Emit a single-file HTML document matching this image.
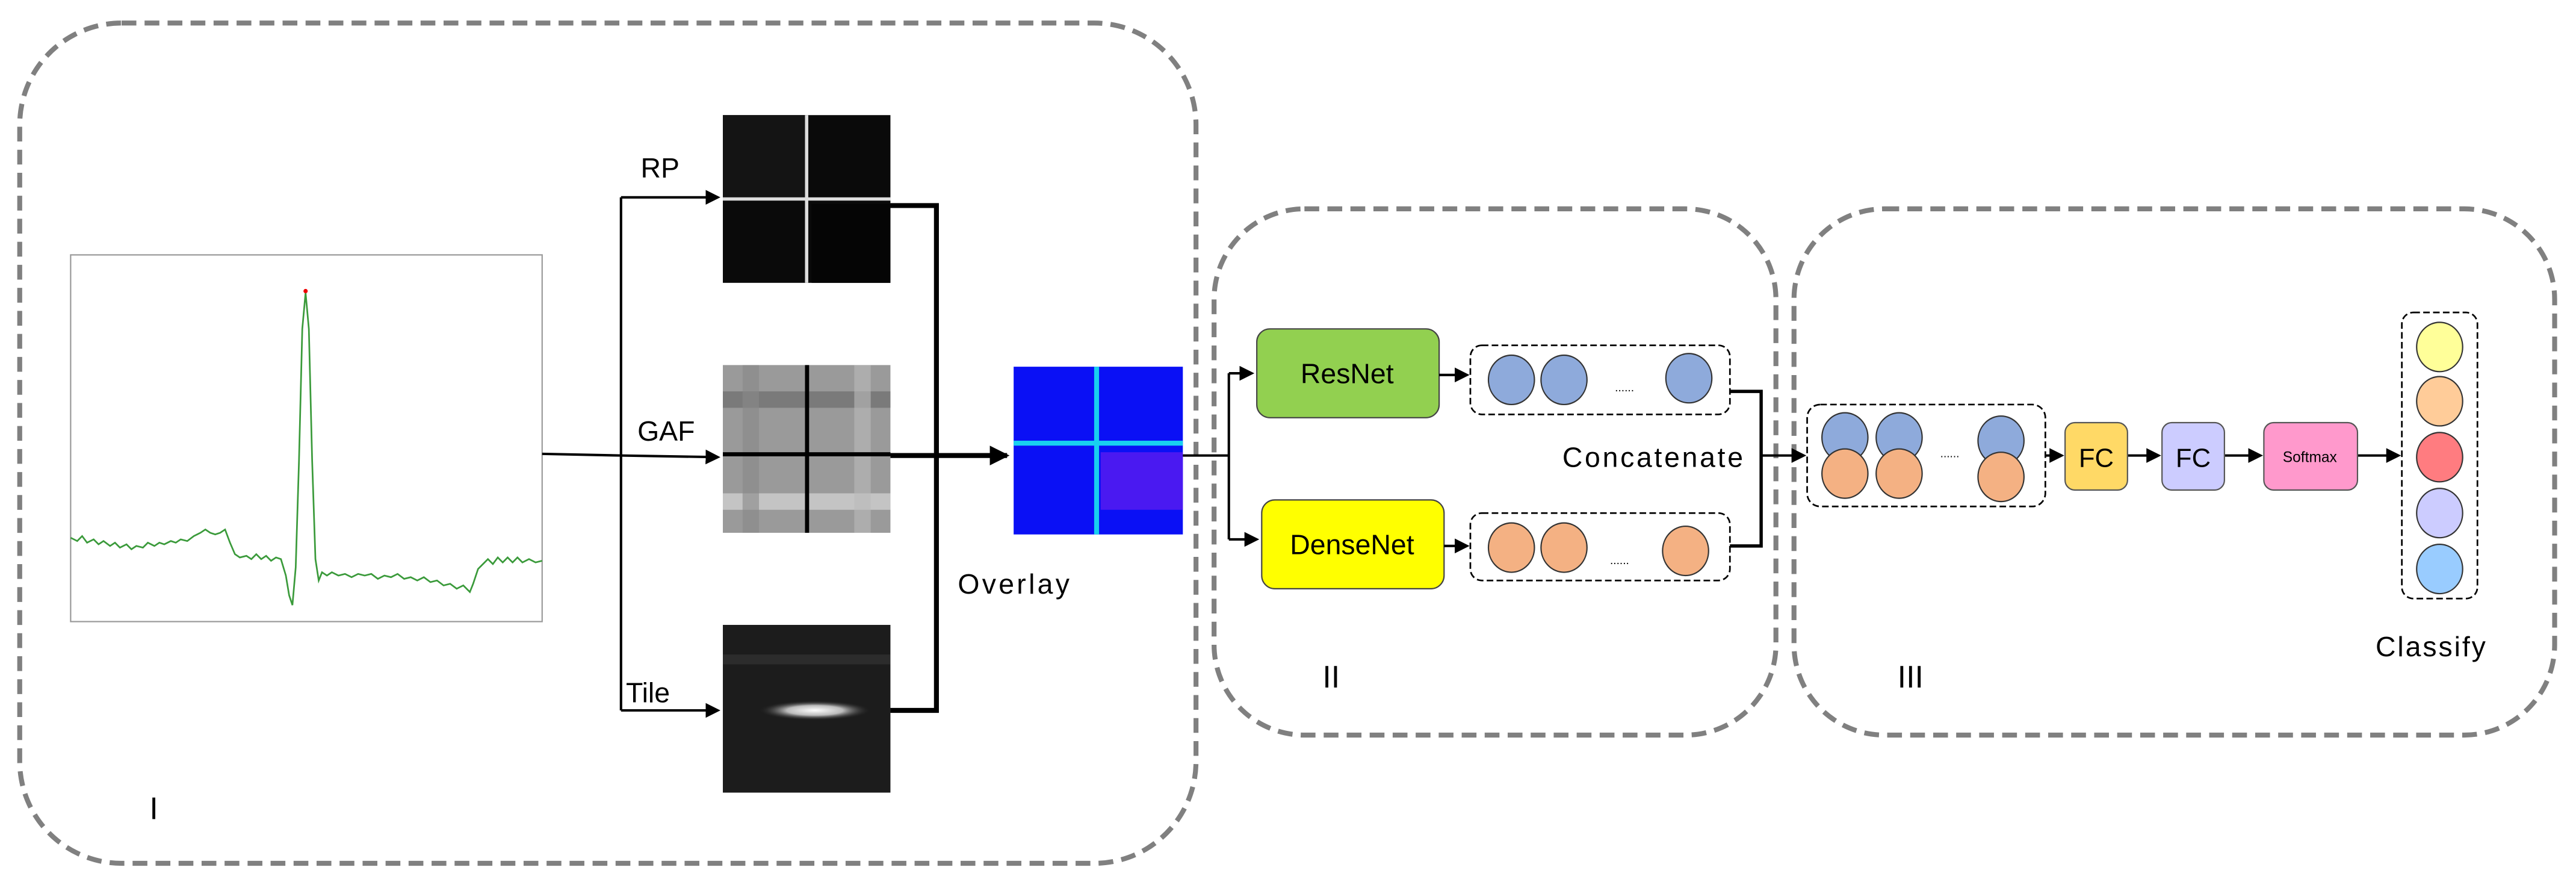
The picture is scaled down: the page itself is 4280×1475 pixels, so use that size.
<!DOCTYPE html>
<html><head><meta charset="utf-8"><style>
html,body{margin:0;padding:0;background:#fff;}
svg{display:block;}
text{font-family:"Liberation Sans",sans-serif;}
</style></head><body>
<svg width="4280" height="1475" viewBox="0 0 1568 540" preserveAspectRatio="none" xmlns="http://www.w3.org/2000/svg">
<defs>
<marker id="ah" markerWidth="6" markerHeight="6" refX="5" refY="3" orient="auto" markerUnits="strokeWidth"><path d="M0,0 L6,3 L0,6 z" fill="#000"/></marker>
<marker id="ahs" markerWidth="4" markerHeight="4" refX="3.5" refY="2" orient="auto" markerUnits="strokeWidth"><path d="M0,0 L4,2 L0,4 z" fill="#000"/></marker>
<radialGradient id="glow" cx="0.5" cy="0.5" r="0.5"><stop offset="0" stop-color="#fff"/><stop offset="0.5" stop-color="#bbb"/><stop offset="1" stop-color="#222" stop-opacity="0"/></radialGradient>
</defs>
<g fill="none" stroke="#808080" stroke-width="3" stroke-dasharray="9,5">
<rect x="12" y="14" width="716" height="511" rx="62"/>
<rect x="739" y="127" width="342" height="320" rx="55"/>
<rect x="1092" y="127" width="463" height="320" rx="55"/>
</g>
<rect x="43" y="155" width="287" height="223" fill="#fff" stroke="#999" stroke-width="0.8"/>
<polyline fill="none" stroke="#3a9a3a" stroke-width="1" points="43,327 47,329 50,326 53,330 57,328 60,331 63,329 67,332 70,330 73,333 77,331 80,334 83,332 87,333 90,330 94,332 97,330 100,331 104,329 107,330 110,328 114,329 118,326 122,324 125,322 128,324 131,325 134,324 137,322 140,330 143,337 146,339 150,338 153,340 156,337 159,340 162,338 165,341 168,339 171,340 174,350 176,362 178,368 180,345 182,280 184,200 186,178 188,200 190,280 192,340 194,353 196,348 199,350 202,348 206,350 210,349 214,351 218,349 222,350 226,349 230,352 234,350 238,351 242,349 246,352 250,351 254,353 258,351 262,354 266,353 270,356 274,355 278,358 282,356 286,360 288,355 291,346 294,343 297,340 300,343 303,339 306,342 309,339 312,342 315,339 318,342 322,340 326,342 330,341"/>
<circle cx="186" cy="177" r="1.3" fill="#e00"/>
<rect x="440" y="70" width="102" height="102" fill="#0a0a0a"/>
<rect x="440" y="70" width="50" height="50" fill="#141414"/>
<rect x="494" y="124" width="48" height="48" fill="#050505"/>
<rect x="440" y="120" width="102" height="2" fill="#ddd"/>
<rect x="490" y="70" width="2" height="102" fill="#ddd"/>
<rect x="440" y="222" width="102" height="102" fill="#9a9a9a"/>
<rect x="440" y="238" width="102" height="10" fill="#7a7a7a"/>
<rect x="440" y="300" width="102" height="10" fill="#c4c4c4"/>
<rect x="452" y="222" width="10" height="102" fill="#888" opacity="0.6"/>
<rect x="520" y="222" width="10" height="102" fill="#bbb" opacity="0.6"/>
<rect x="440" y="275" width="102" height="2.5" fill="#000"/>
<rect x="490" y="222" width="2.5" height="102" fill="#000"/>
<rect x="440" y="380" width="102" height="102" fill="#1c1c1c"/>
<rect x="440" y="398" width="102" height="6" fill="#333" opacity="0.7"/>
<ellipse cx="496" cy="432" rx="34" ry="6" fill="url(#glow)"/>
<rect x="617" y="223" width="103" height="102" fill="#0a10f5"/>
<rect x="670" y="275" width="50" height="35" fill="#5a1cf0" opacity="0.8"/>
<rect x="617" y="268" width="103" height="3" fill="#18d0f0"/>
<rect x="666" y="223" width="3" height="102" fill="#18d0f0"/>
<g stroke="#000" fill="none">
<line x1="330" y1="276" x2="378" y2="277" stroke-width="1.5"/>
<line x1="378" y1="120" x2="378" y2="432" stroke-width="1.5"/>
<line x1="378" y1="120" x2="437" y2="120" stroke-width="1.5" marker-end="url(#ah)"/>
<line x1="378" y1="277" x2="437" y2="278" stroke-width="1.5" marker-end="url(#ah)"/>
<line x1="378" y1="432" x2="437" y2="432" stroke-width="1.5" marker-end="url(#ah)"/>
<polyline points="542,125 570,125 570,432 542,432" stroke-width="3"/>
<line x1="542" y1="277" x2="613" y2="277" stroke-width="3" marker-end="url(#ahs)"/>
<line x1="720" y1="277" x2="748" y2="277" stroke-width="1.5"/>
<line x1="748" y1="227" x2="748" y2="328" stroke-width="1.5"/>
<line x1="748" y1="227" x2="762" y2="227" stroke-width="1.5" marker-end="url(#ah)"/>
<line x1="748" y1="328" x2="765" y2="328" stroke-width="1.5" marker-end="url(#ah)"/>
</g>
<g font-size="17" fill="#000">
<text x="390" y="108">RP</text>
<text x="388" y="268">GAF</text>
<text x="381" y="427">Tile</text>
<text x="583" y="361" textLength="68">Overlay</text>
<text x="91" y="498" font-size="19">I</text>
<text x="805" y="418" font-size="19">II</text>
<text x="1155" y="418" font-size="19">III</text>
<text x="951" y="284" textLength="110">Concatenate</text>
<text x="1446" y="399" textLength="67">Classify</text>
</g>
<rect x="765" y="200" width="111" height="54" rx="8" fill="#92d050" stroke="#444" stroke-width="0.8"/>
<text x="820" y="233" font-size="17" text-anchor="middle">ResNet</text>
<rect x="768" y="304" width="111" height="54" rx="8" fill="#ffff00" stroke="#444" stroke-width="0.8"/>
<text x="823" y="337" font-size="17" text-anchor="middle">DenseNet</text>
<g stroke="#000" fill="none" stroke-width="1.5">
<line x1="876" y1="228" x2="893" y2="228" marker-end="url(#ah)"/>
<line x1="879" y1="332" x2="893" y2="332" marker-end="url(#ah)"/>
</g>
<g fill="none" stroke="#000" stroke-width="1" stroke-dasharray="4,2">
<rect x="895" y="210" width="158" height="42" rx="7"/>
<rect x="895" y="312" width="158" height="41" rx="7"/>
<rect x="1100" y="246" width="145" height="62" rx="8"/>
<rect x="1462" y="190" width="46" height="174" rx="7"/>
</g>
<g stroke="#333" stroke-width="0.8">
<ellipse cx="920" cy="231" rx="14" ry="15" fill="#8eaadb"/>
<ellipse cx="952" cy="231" rx="14" ry="15" fill="#8eaadb"/>
<ellipse cx="1028" cy="230" rx="14" ry="15" fill="#8eaadb"/>
<ellipse cx="920" cy="333" rx="14" ry="15" fill="#f4b183"/>
<ellipse cx="952" cy="333" rx="14" ry="15" fill="#f4b183"/>
<ellipse cx="1026" cy="335" rx="14" ry="15" fill="#f4b183"/>
<ellipse cx="1123" cy="266" rx="14" ry="15" fill="#8eaadb"/>
<ellipse cx="1156" cy="266" rx="14" ry="15" fill="#8eaadb"/>
<ellipse cx="1218" cy="268" rx="14" ry="15" fill="#8eaadb"/>
<ellipse cx="1123" cy="288" rx="14" ry="15" fill="#f4b183"/>
<ellipse cx="1156" cy="288" rx="14" ry="15" fill="#f4b183"/>
<ellipse cx="1218" cy="290" rx="14" ry="15" fill="#f4b183"/>
<ellipse cx="1485" cy="211" rx="14" ry="15" fill="#ffff99"/>
<ellipse cx="1485" cy="244" rx="14" ry="15" fill="#ffcc99"/>
<ellipse cx="1485" cy="278" rx="14" ry="15" fill="#ff7c80"/>
<ellipse cx="1485" cy="312" rx="14" ry="15" fill="#ccccff"/>
<ellipse cx="1485" cy="346" rx="14" ry="15" fill="#99ccff"/>
</g>
<g font-size="7" fill="#000">
<text x="983" y="238">......</text>
<text x="980" y="343">......</text>
<text x="1181" y="278">......</text>
</g>
<g stroke="#000" fill="none">
<polyline points="1053,238 1072,238 1072,332 1053,332" stroke-width="2"/>
<line x1="1072" y1="277" x2="1098" y2="277" stroke-width="1.5" marker-end="url(#ah)"/>
<line x1="1245" y1="277" x2="1255" y2="277" stroke-width="1.5" marker-end="url(#ah)"/>
<line x1="1295" y1="277" x2="1314" y2="277" stroke-width="1.5" marker-end="url(#ah)"/>
<line x1="1354" y1="277" x2="1376" y2="277" stroke-width="1.5" marker-end="url(#ah)"/>
<line x1="1435" y1="277" x2="1460" y2="277" stroke-width="1.5" marker-end="url(#ah)"/>
</g>
<rect x="1257" y="257" width="38" height="41" rx="6" fill="#ffd966" stroke="#555" stroke-width="0.8"/>
<rect x="1316" y="257" width="38" height="41" rx="6" fill="#ccccff" stroke="#555" stroke-width="0.8"/>
<rect x="1378" y="257" width="57" height="41" rx="6" fill="#ff99cc" stroke="#555" stroke-width="0.8"/>
<text x="1276" y="284" font-size="16" text-anchor="middle">FC</text>
<text x="1335" y="284" font-size="16" text-anchor="middle">FC</text>
<text x="1406" y="281" font-size="9" text-anchor="middle">Softmax</text>
</svg>
</body></html>
